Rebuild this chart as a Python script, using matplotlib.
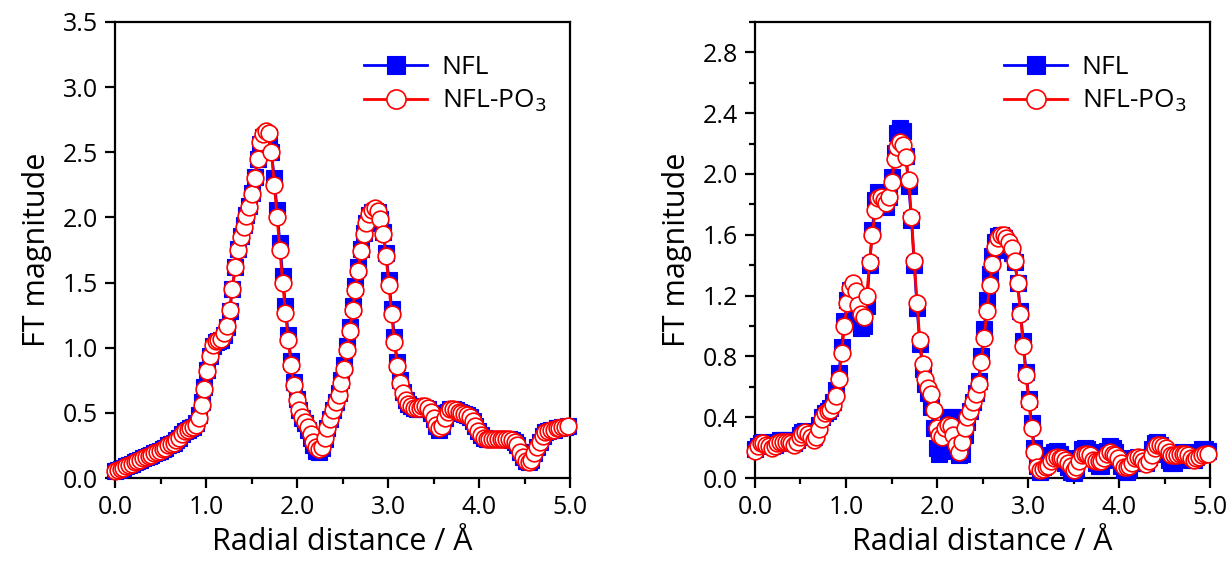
import numpy as np
import matplotlib.pyplot as plt
from matplotlib.ticker import MultipleLocator, FormatStrFormatter

plt.rcParams['font.family'] = ['Open Sans', 'DejaVu Sans']

# R grid of the Fourier transform (163 points, dr ~ 0.0307 A)
r = np.arange(163) * 0.0307

# left panel
nfl_left = [
    0.05, 0.06, 0.07, 0.08, 0.09, 0.10, 0.11, 0.12, 0.13, 0.14,
    0.15, 0.16, 0.17, 0.18, 0.19, 0.20, 0.21, 0.22, 0.23, 0.25,
    0.26, 0.27, 0.29, 0.31, 0.34, 0.36, 0.37, 0.38, 0.39, 0.42,
    0.48, 0.58, 0.70, 0.83, 0.94, 1.01, 1.04, 1.05, 1.06, 1.10,
    1.16, 1.28, 1.45, 1.62, 1.76, 1.86, 1.94, 2.02, 2.09, 2.19,
    2.31, 2.45, 2.56, 2.62, 2.63, 2.62, 2.50, 2.30, 2.06, 1.80,
    1.55, 1.32, 1.10, 0.90, 0.74, 0.61, 0.52, 0.46, 0.42, 0.37,
    0.31, 0.25, 0.21, 0.20, 0.23, 0.30, 0.38, 0.45, 0.52, 0.58,
    0.65, 0.75, 0.87, 1.01, 1.16, 1.32, 1.47, 1.62, 1.76, 1.88,
    1.96, 2.02, 2.04, 2.05, 2.04, 1.99, 1.89, 1.73, 1.52, 1.30,
    1.08, 0.89, 0.75, 0.66, 0.60, 0.57, 0.55, 0.54, 0.53, 0.53,
    0.54, 0.54, 0.53, 0.50, 0.45, 0.40, 0.37, 0.40, 0.46, 0.51,
    0.53, 0.53, 0.52, 0.51, 0.50, 0.49, 0.48, 0.47, 0.44, 0.40,
    0.36, 0.33, 0.31, 0.30, 0.30, 0.30, 0.30, 0.30, 0.30, 0.30,
    0.30, 0.30, 0.29, 0.28, 0.25, 0.20, 0.16, 0.13, 0.12, 0.14,
    0.19, 0.24, 0.28, 0.32, 0.35, 0.36, 0.37, 0.37, 0.38, 0.38,
    0.39, 0.39, 0.40,
]
nflpo3_left = [
    0.05, 0.06, 0.07, 0.08, 0.09, 0.10, 0.11, 0.12, 0.13, 0.14,
    0.15, 0.16, 0.17, 0.18, 0.19, 0.20, 0.21, 0.22, 0.23, 0.25,
    0.26, 0.27, 0.29, 0.31, 0.34, 0.36, 0.37, 0.38, 0.39, 0.41,
    0.46, 0.56, 0.68, 0.82, 0.94, 1.02, 1.05, 1.06, 1.07, 1.11,
    1.17, 1.29, 1.45, 1.62, 1.75, 1.85, 1.93, 2.01, 2.08, 2.18,
    2.30, 2.45, 2.58, 2.64, 2.66, 2.65, 2.50, 2.25, 2.00, 1.75,
    1.50, 1.27, 1.06, 0.87, 0.71, 0.60, 0.52, 0.47, 0.43, 0.39,
    0.34, 0.28, 0.24, 0.22, 0.24, 0.31, 0.38, 0.45, 0.52, 0.58,
    0.64, 0.73, 0.84, 0.98, 1.13, 1.29, 1.44, 1.59, 1.74, 1.87,
    1.96, 2.03, 2.06, 2.07, 2.05, 1.99, 1.87, 1.70, 1.48, 1.26,
    1.04, 0.86, 0.73, 0.65, 0.60, 0.57, 0.55, 0.54, 0.54, 0.54,
    0.55, 0.55, 0.54, 0.51, 0.46, 0.41, 0.38, 0.40, 0.46, 0.51,
    0.53, 0.53, 0.52, 0.51, 0.50, 0.49, 0.48, 0.47, 0.44, 0.40,
    0.36, 0.33, 0.31, 0.30, 0.30, 0.30, 0.30, 0.30, 0.30, 0.30,
    0.30, 0.30, 0.29, 0.28, 0.25, 0.20, 0.16, 0.13, 0.12, 0.14,
    0.19, 0.24, 0.28, 0.32, 0.35, 0.36, 0.37, 0.37, 0.38, 0.38,
    0.39, 0.39, 0.40,
]

# right panel
nfl_right = [
    0.19, 0.21, 0.23, 0.24, 0.23, 0.22, 0.21, 0.22, 0.24, 0.25,
    0.25, 0.25, 0.24, 0.23, 0.23, 0.25, 0.28, 0.30, 0.31, 0.30,
    0.28, 0.27, 0.30, 0.35, 0.40, 0.43, 0.44, 0.46, 0.50, 0.58,
    0.69, 0.86, 1.03, 1.17, 1.24, 1.22, 1.14, 1.05, 0.99, 1.00,
    1.13, 1.40, 1.63, 1.83, 1.88, 1.85, 1.80, 1.78, 1.85, 1.98,
    2.14, 2.27, 2.30, 2.28, 2.12, 1.92, 1.70, 1.40, 1.12, 0.88,
    0.72, 0.62, 0.56, 0.47, 0.33, 0.20, 0.16, 0.18, 0.30, 0.38,
    0.40, 0.40, 0.33, 0.15, 0.16, 0.28, 0.37, 0.44, 0.50, 0.56,
    0.64, 0.80, 0.98, 1.17, 1.34, 1.46, 1.55, 1.59, 1.60, 1.58,
    1.54, 1.50, 1.48, 1.42, 1.28, 1.10, 0.90, 0.70, 0.52, 0.36,
    0.20, 0.08, 0.04, 0.07, 0.10, 0.12, 0.15, 0.17, 0.18, 0.16,
    0.13, 0.10, 0.07, 0.04, 0.03, 0.06, 0.13, 0.19, 0.20, 0.19,
    0.17, 0.13, 0.10, 0.08, 0.08, 0.12, 0.18, 0.21, 0.20, 0.17,
    0.13, 0.08, 0.05, 0.04, 0.06, 0.10, 0.13, 0.14, 0.12, 0.10,
    0.10, 0.14, 0.19, 0.23, 0.24, 0.22, 0.19, 0.16, 0.12, 0.10,
    0.10, 0.13, 0.16, 0.17, 0.16, 0.14, 0.12, 0.12, 0.14, 0.17,
    0.19, 0.19, 0.18,
]
nflpo3_right = [
    0.18, 0.21, 0.23, 0.23, 0.22, 0.21, 0.20, 0.21, 0.23, 0.24,
    0.24, 0.24, 0.24, 0.23, 0.22, 0.24, 0.27, 0.29, 0.30, 0.29,
    0.27, 0.25, 0.27, 0.32, 0.39, 0.43, 0.44, 0.45, 0.48, 0.54,
    0.65, 0.82, 1.00, 1.15, 1.25, 1.28, 1.23, 1.14, 1.08, 1.06,
    1.20, 1.42, 1.60, 1.76, 1.84, 1.85, 1.83, 1.81, 1.85, 1.95,
    2.10, 2.18, 2.21, 2.19, 2.11, 1.96, 1.72, 1.43, 1.15, 0.91,
    0.75, 0.65, 0.59, 0.55, 0.45, 0.33, 0.28, 0.27, 0.33, 0.35,
    0.34, 0.28, 0.22, 0.17, 0.24, 0.33, 0.40, 0.44, 0.50, 0.55,
    0.62, 0.76, 0.92, 1.10, 1.27, 1.41, 1.52, 1.58, 1.60, 1.60,
    1.58, 1.55, 1.51, 1.43, 1.28, 1.08, 0.87, 0.68, 0.50, 0.33,
    0.17, 0.07, 0.05, 0.06, 0.07, 0.08, 0.11, 0.13, 0.14, 0.13,
    0.13, 0.12, 0.10, 0.08, 0.05, 0.07, 0.11, 0.15, 0.16, 0.16,
    0.15, 0.12, 0.11, 0.11, 0.11, 0.13, 0.16, 0.17, 0.16, 0.15,
    0.13, 0.10, 0.07, 0.07, 0.08, 0.10, 0.13, 0.14, 0.13, 0.11,
    0.09, 0.11, 0.15, 0.20, 0.22, 0.22, 0.21, 0.20, 0.17, 0.15,
    0.15, 0.15, 0.16, 0.16, 0.16, 0.15, 0.13, 0.12, 0.13, 0.14,
    0.15, 0.16, 0.16,
]

panels = [
    (nfl_left, nflpo3_left, 3.5, 0.5, None),
    (nfl_right, nflpo3_right, 3.0, 0.4, 0.2),
]
axes_pos = [
    [0.0935, 0.173, 0.370, 0.789],
    [0.6138, 0.173, 0.370, 0.789],
]

fig = plt.figure(figsize=(12.3, 5.78), dpi=100)

for (nfl, po3, ymax, ymaj, ymin), pos in zip(panels, axes_pos):
    ax = fig.add_axes(pos)
    ax.plot(r, nfl, color='blue', lw=2.0, marker='s', ms=11.5,
            mfc='blue', mec='blue', mew=0.8, label='NFL', clip_on=False, zorder=3)
    ax.plot(r, po3, color='red', lw=2.0, marker='o', ms=12,
            mfc='white', mec='red', mew=1.2, label='NFL-PO$_3$', clip_on=False, zorder=4)

    ax.set_xlim(0, 5.0)
    ax.set_ylim(0, ymax)
    ax.xaxis.set_major_locator(MultipleLocator(1.0))
    ax.xaxis.set_minor_locator(MultipleLocator(0.5))
    ax.xaxis.set_major_formatter(FormatStrFormatter('%.1f'))
    ax.yaxis.set_major_locator(MultipleLocator(ymaj))
    if ymin:
        ax.yaxis.set_minor_locator(MultipleLocator(ymin))
    ax.yaxis.set_major_formatter(FormatStrFormatter('%.1f'))

    for s in ax.spines.values():
        s.set_linewidth(1.6)
    ax.tick_params(which='major', direction='out', length=7, width=1.6,
                   labelsize=18, pad=5, top=False, right=False)
    ax.tick_params(which='minor', direction='out', length=4.5, width=1.6,
                   top=False, right=False)

    ax.set_xlabel('Radial distance / Å', fontsize=22, labelpad=5)
    ax.set_ylabel('FT magnitude', fontsize=22, labelpad=8)

    ax.legend(loc='upper right', bbox_to_anchor=(1.0, 0.98), frameon=False,
              fontsize=19, handlelength=2.4, handletextpad=0.55, labelspacing=0.3,
              markerscale=1.15)

fig.savefig('out.png', dpi=100)
